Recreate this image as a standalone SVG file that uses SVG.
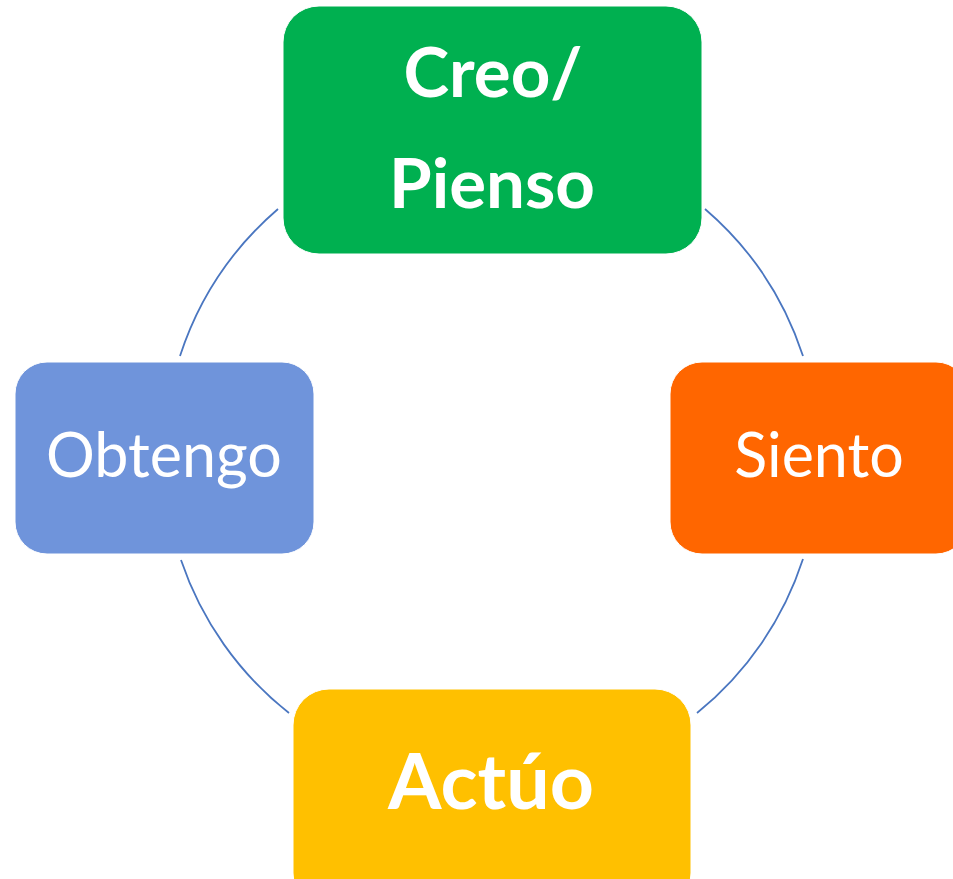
<svg xmlns="http://www.w3.org/2000/svg" width="953" height="879" viewBox="0 0 953 879">
<style>
.arc{fill:none;stroke:#4A76C0;stroke-width:1.8}
.box{stroke:#ffffff;stroke-width:1}
.t{fill:#ffffff;font-family:Lato,"Open Sans","Liberation Sans",sans-serif;text-anchor:middle}
.b{font-weight:bold;font-size:69px}
.r{font-weight:normal;font-size:61px}
.big{font-weight:bold;font-size:77px}
</style>
<rect width="953" height="879" fill="#ffffff"/>
<g id="connectors">
<path class="arc" d="M 278 209 A 328 328 0 0 0 180 356"/>
<path class="arc" d="M 705 209 A 328 328 0 0 1 803 356"/>
<path class="arc" d="M 803 559 A 328 328 0 0 1 697 713"/>
<path class="arc" d="M 181 560 A 328 328 0 0 0 289 713"/>
</g>
<g id="node-creo">
<rect class="box" x="283" y="6" width="419" height="248" rx="36" fill="#00B050"/>
<text class="t b" x="493" y="97">Creo/</text>
<text class="t b" x="492" y="208">Pienso</text>
</g>
<g id="node-siento">
<rect class="box" x="670" y="362" width="298" height="192" rx="32" fill="#FF6600"/>
<text class="t r" x="819" y="477">Siento</text>
</g>
<g id="node-obtengo">
<rect class="box" x="15" y="362" width="299" height="192" rx="32" fill="#6F94DB"/>
<text class="t r" x="164" y="477">Obtengo</text>
</g>
<g id="node-actuo">
<rect class="box" x="293" y="689" width="398" height="220" rx="36" fill="#FFC000"/>
<text class="t big" x="491" y="809">Actúo</text>
</g>
</svg>
